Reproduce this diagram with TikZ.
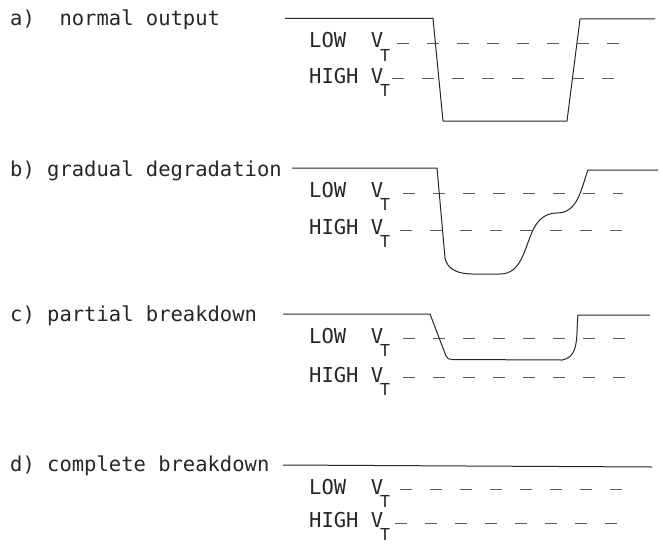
\documentclass[tikz,border=0pt]{standalone}
\usepackage{fontspec}
\usepackage{tikz}
\newfontfamily\typefont{DejaVu Sans Mono}
\newcommand{\vtsub}{V\kern-0.15em\raisebox{-0.64em}{\fontsize{16.5}{16.5}\selectfont T}}

\begin{document}
\begin{tikzpicture}[x=1pt, y=-1pt,
    caption/.style={anchor=base west, inner sep=0pt, font=\typefont\fontsize{20.5}{24}\selectfont, text=black!85},
    thrlabel/.style={anchor=base west, inner sep=0pt, font=\typefont\fontsize{20.5}{24}\selectfont, text=black!85},
    signal/.style={line width=1pt, color=black!85, line join=round},
    thr/.style={line width=0.8pt, color=black!65, dash pattern=on 12pt off 18pt}]

    \useasboundingbox (0,0) rectangle (663,543);

    % a) normal output
    \node[caption] (capa) at (10,26) {a)\ \ normal output};
    \node[thrlabel] (lowa) at (309,48) {LOW\ \ \vtsub};
    \node[thrlabel] (higha) at (309,83) {HIGH \vtsub};
    \draw[thr] (397,43) -- (622,43);
    \draw[thr] (392,78) -- (622,78);
    \draw[signal] (285,18.5) -- (433,18.5) -- (443,121) -- (567,121) -- (580,19) -- (655,19);

    % b) gradual degradation
    \node[caption] (capb) at (10,176) {b) gradual degradation};
    \node[thrlabel] (lowb) at (309,197.5) {LOW\ \ \vtsub};
    \node[thrlabel] (highb) at (309,234.5) {HIGH \vtsub};
    \draw[thr] (403,193) -- (623,193);
    \draw[thr] (400,230) -- (623,230);
    \draw[signal] (292,168) -- (437,168) -- (445,258) to[out=-80,in=180] (472,274)
        -- (500,274) to[out=0,in=-115] (533,230) to[out=65,in=180] (557,213)
        to[out=0,in=-110] (588,170) -- (658,170);

    % c) partial breakdown
    \node[caption] (capc) at (10,321) {c) partial breakdown};
    \node[thrlabel] (lowc) at (309,343) {LOW\ \ \vtsub};
    \node[thrlabel] (highc) at (309,382) {HIGH \vtsub};
    \draw[thr] (403,338) -- (627,338);
    \draw[thr] (403,377) -- (627,377);
    \draw[signal] (283,314) -- (430,314) -- (446,356) to[out=-70,in=180] (452,359.5)
        -- (562,360) to[out=10,in=-97] (578,315) -- (650,315);

    % d) complete breakdown
    \node[caption] (capd) at (10,471) {d) complete breakdown};
    \node[thrlabel] (lowd) at (309,494.5) {LOW\ \ \vtsub};
    \node[thrlabel] (highd) at (309,527) {HIGH \vtsub};
    \draw[thr] (400,489) -- (622,489);
    \draw[thr] (395,523) -- (622,523);
    \draw[signal] (283,465) -- (652,467);
\end{tikzpicture}
\end{document}
